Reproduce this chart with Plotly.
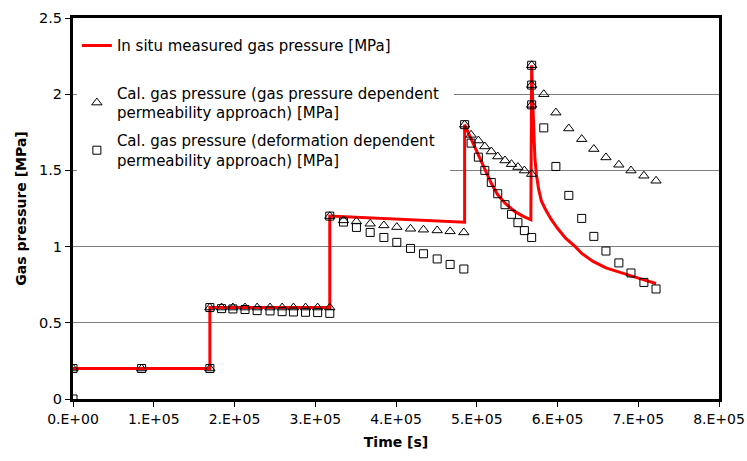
import plotly.graph_objects as go

# Time axis values are given in units of 1e5 s
SCALE = 1e5

# In situ measured gas pressure [MPa]
meas_t = [0, 1.695, 1.695, 3.18, 3.18, 4.85, 4.85, 4.975, 5.10, 5.18, 5.26, 5.36, 5.47,
          5.57, 5.67, 5.68, 5.69, 5.705, 5.72, 5.74, 5.765, 5.80, 5.85, 5.92, 6.00, 6.10,
          6.19, 6.22, 6.30, 6.44, 6.60, 6.85, 7.05, 7.22]
meas_p = [0.2, 0.2, 0.6, 0.6, 1.2, 1.16, 1.80, 1.657, 1.504, 1.415, 1.34, 1.28, 1.231,
          1.20, 1.176, 2.19, 2.0, 1.75, 1.58, 1.47, 1.38, 1.30, 1.245, 1.18, 1.12, 1.055,
          1.015, 1.0, 0.955, 0.903, 0.86, 0.816, 0.785, 0.758]

# Calculated: gas pressure dependent permeability approach
gp_t = [0, 0.85, 1.695, 1.695, 1.84, 1.98, 2.13, 2.28, 2.44, 2.59, 2.73, 2.88, 3.03, 3.18,
        3.18, 3.35, 3.51, 3.68, 3.85, 4.01, 4.18, 4.34, 4.51, 4.67, 4.84,
        4.85, 4.93, 5.02, 5.10, 5.18, 5.26, 5.35, 5.43, 5.51, 5.59, 5.68,
        5.68, 5.68, 5.68, 5.83, 5.98, 6.14, 6.30, 6.45, 6.60, 6.76, 6.91, 7.07, 7.22]
gp_p = [0.2, 0.2, 0.2, 0.6, 0.6, 0.6, 0.6, 0.6, 0.6, 0.6, 0.6, 0.6, 0.6, 0.6,
        1.2, 1.172, 1.165, 1.15, 1.139, 1.128, 1.117, 1.111, 1.106, 1.1, 1.093,
        1.8, 1.733, 1.696, 1.657, 1.624, 1.591, 1.565, 1.541, 1.522, 1.499, 1.476,
        1.93, 2.06, 2.19, 2.0, 1.879, 1.775, 1.705, 1.64, 1.585, 1.537, 1.499, 1.465, 1.432]

# Calculated: deformation dependent permeability approach
dd_t = [0, 0, 0.85, 1.695, 1.695, 1.84, 1.98, 2.13, 2.28, 2.44, 2.59, 2.73, 2.88, 3.03, 3.18,
        3.18, 3.35, 3.51, 3.68, 3.85, 4.01, 4.18, 4.34, 4.51, 4.67, 4.84,
        4.85, 4.93, 5.02, 5.10, 5.18, 5.26, 5.35, 5.43, 5.51, 5.59, 5.68,
        5.68, 5.68, 5.68, 5.83, 5.98, 6.14, 6.30, 6.45, 6.60, 6.76, 6.91, 7.07, 7.22]
dd_p = [0, 0.2, 0.2, 0.2, 0.6, 0.593, 0.591, 0.587, 0.58, 0.578, 0.573, 0.571, 0.569, 0.567, 0.562,
        1.2, 1.161, 1.126, 1.093, 1.06, 1.028, 0.988, 0.953, 0.919, 0.883, 0.853,
        1.8, 1.679, 1.587, 1.5, 1.421, 1.347, 1.275, 1.212, 1.157, 1.105, 1.06,
        1.93, 2.06, 2.19, 1.779, 1.526, 1.336, 1.185, 1.067, 0.971, 0.893, 0.827, 0.765, 0.722]

x_ticks = [0, 1, 2, 3, 4, 5, 6, 7, 8]
x_tick_text = ["0.E+00", "1.E+05", "2.E+05", "3.E+05", "4.E+05",
               "5.E+05", "6.E+05", "7.E+05", "8.E+05"]
y_ticks = [0, 0.5, 1, 1.5, 2, 2.5]

FONT = "DejaVu Sans"
PAD = "&nbsp;&nbsp;"  # keeps a little white space right of the legend text

fig = go.Figure()

fig.add_trace(go.Scatter(
    x=[t * SCALE for t in meas_t], y=meas_p, mode="lines",
    line=dict(color="#ff0000", width=3),
    name="In situ measured gas pressure [MPa]",
    legend="legend", showlegend=True,
))
fig.add_trace(go.Scatter(
    x=[t * SCALE for t in gp_t], y=gp_p, mode="markers",
    marker=dict(symbol="triangle-up-open", size=9, color="black", line=dict(width=1)),
    name="Cal. gas pressure (gas pressure dependent" + PAD + "<br>permeability approach) [MPa]",
    legend="legend2", showlegend=True,
))
fig.add_trace(go.Scatter(
    x=[t * SCALE for t in dd_t], y=dd_p, mode="markers",
    marker=dict(symbol="square-open", size=8, color="black", line=dict(width=1)),
    name="Cal. gas pressure (deformation dependent" + PAD + "<br>permeability approach) [MPa]",
    legend="legend3", showlegend=True,
))

legend_style = dict(x=0.006, xanchor="left", yanchor="middle", bgcolor="white",
                    borderwidth=0, font=dict(family=FONT, size=15, color="black"))

fig.update_layout(
    width=747, height=461,
    margin=dict(l=73, r=28, t=18, b=62, autoexpand=False),
    paper_bgcolor="white", plot_bgcolor="white",
    showlegend=True,
    font=dict(family=FONT, size=14, color="black"),
    legend=dict(y=0.927, **legend_style),
    legend2=dict(y=0.778, **legend_style),
    legend3=dict(y=0.653, **legend_style),
    xaxis=dict(
        range=[0, 8 * SCALE], tickvals=[v * SCALE for v in x_ticks], ticktext=x_tick_text,
        showgrid=False, zeroline=False, showline=True, linecolor="black", linewidth=3,
        mirror=True, ticks="outside", ticklen=5, tickcolor="black", tickwidth=1,
        tickfont=dict(family=FONT, size=14), automargin=False,
        title=dict(text="<b>Time [s]</b>", font=dict(family=FONT, size=14), standoff=12),
    ),
    yaxis=dict(
        range=[0, 2.5], tickvals=y_ticks,
        showgrid=True, gridcolor="#808080", gridwidth=1,
        zeroline=False, showline=True, linecolor="black", linewidth=3,
        mirror=True, ticks="outside", ticklen=5, tickcolor="black", tickwidth=1,
        tickfont=dict(family=FONT, size=14.5), automargin=False,
        title=dict(text="<b>Gas pressure [MPa]</b>", font=dict(family=FONT, size=14), standoff=10),
    ),
)

fig.write_html("out.html")
